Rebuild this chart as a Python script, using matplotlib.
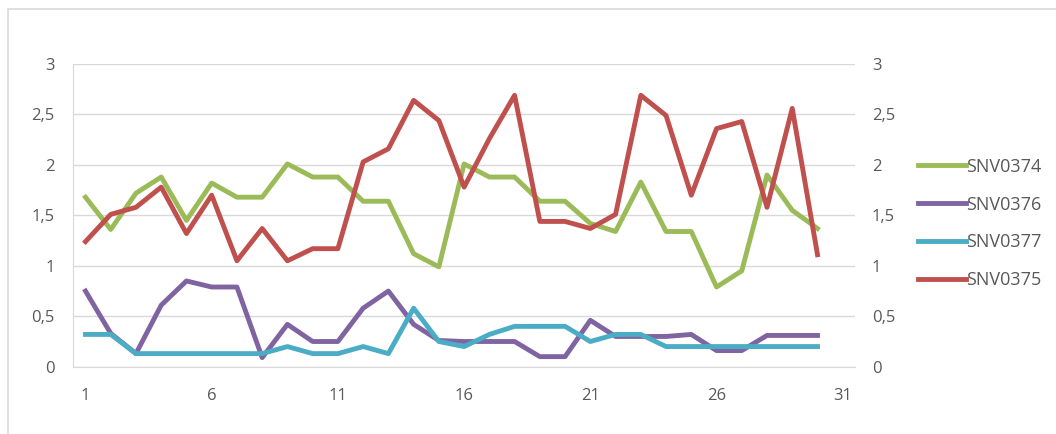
import numpy as np
import matplotlib
matplotlib.use('Agg')
import matplotlib.pyplot as plt
from matplotlib.patches import Rectangle
from matplotlib.ticker import FuncFormatter

# datos
dias = np.arange(1, 31)

snv0374 = [1.68, 1.36, 1.72, 1.88, 1.45, 1.82, 1.68, 1.68, 2.01, 1.88,
           1.88, 1.64, 1.64, 1.12, 0.99, 2.01, 1.88, 1.88, 1.64, 1.64,
           1.42, 1.34, 1.83, 1.34, 1.34, 0.79, 0.95, 1.90, 1.55, 1.37]
snv0376 = [0.75, 0.33, 0.13, 0.61, 0.85, 0.79, 0.79, 0.09, 0.42, 0.25,
           0.25, 0.58, 0.75, 0.42, 0.26, 0.25, 0.25, 0.25, 0.10, 0.10,
           0.46, 0.30, 0.30, 0.30, 0.32, 0.16, 0.16, 0.31, 0.31, 0.31]
snv0377 = [0.32, 0.32, 0.13, 0.13, 0.13, 0.13, 0.13, 0.13, 0.20, 0.13,
           0.13, 0.20, 0.13, 0.58, 0.25, 0.20, 0.32, 0.40, 0.40, 0.40,
           0.25, 0.32, 0.32, 0.20, 0.20, 0.20, 0.20, 0.20, 0.20, 0.20]
snv0375 = [1.24, 1.51, 1.58, 1.78, 1.32, 1.70, 1.05, 1.37, 1.05, 1.17,
           1.17, 2.03, 2.16, 2.64, 2.44, 1.78, 2.26, 2.69, 1.44, 1.44,
           1.37, 1.51, 2.69, 2.49, 1.70, 2.36, 2.43, 1.58, 2.56, 1.11]

series = [('SNV0374', snv0374, '#9BBB59'),
          ('SNV0376', snv0376, '#8064A2'),
          ('SNV0377', snv0377, '#4BACC6'),
          ('SNV0375', snv0375, '#C0504D')]

plt.rcParams['font.family'] = ['Open Sans', 'DejaVu Sans']
gris = '#595959'

fig = plt.figure(figsize=(10.56, 4.34), dpi=100)
# marco exterior del grafico (gris claro)
fig.patches.append(Rectangle((8/1056, -0.1), 1.2, 1 - 9/434 + 0.1, transform=fig.transFigure,
                             fill=False, edgecolor='#D9D9D9', linewidth=1.2))

ax = fig.add_axes([0.069, 0.155, 0.741, 0.6975])
for nombre, valores, color in series:
    ax.plot(dias, valores, color=color, linewidth=3.5, label=nombre)

coma = FuncFormatter(lambda v, p: ('%g' % v).replace('.', ','))
ax.set_xlim(0.5, 31.5)
ax.set_ylim(0, 3)
ax.set_xticks([1, 6, 11, 16, 21, 26, 31])
ax.set_yticks(np.arange(0, 3.01, 0.5))
ax.yaxis.set_major_formatter(coma)
ax.grid(axis='y', color='#D9D9D9', linewidth=1)
ax.set_axisbelow(True)
for s in ['top', 'right']:
    ax.spines[s].set_visible(False)
for s in ['left', 'bottom']:
    ax.spines[s].set_color('#D9D9D9')
ax.tick_params(length=0, labelsize=12, colors=gris, pad=13)
ax.tick_params(axis='x', pad=15)

# eje secundario (mismo rango)
ax2 = ax.twinx()
ax2.set_ylim(0, 3)
ax2.set_yticks(np.arange(0, 3.01, 0.5))
ax2.yaxis.set_major_formatter(coma)
for s in ax2.spines.values():
    s.set_visible(False)
ax2.tick_params(length=0, labelsize=12, colors=gris, pad=12)

leg = ax.legend(loc='center left', bbox_to_anchor=(1.0596, 0.473), frameon=False,
                fontsize=13, handlelength=2.65, handletextpad=0.0, labelspacing=1.1)
for t in leg.get_texts():
    t.set_color(gris)

plt.savefig('out.png', dpi=100)
